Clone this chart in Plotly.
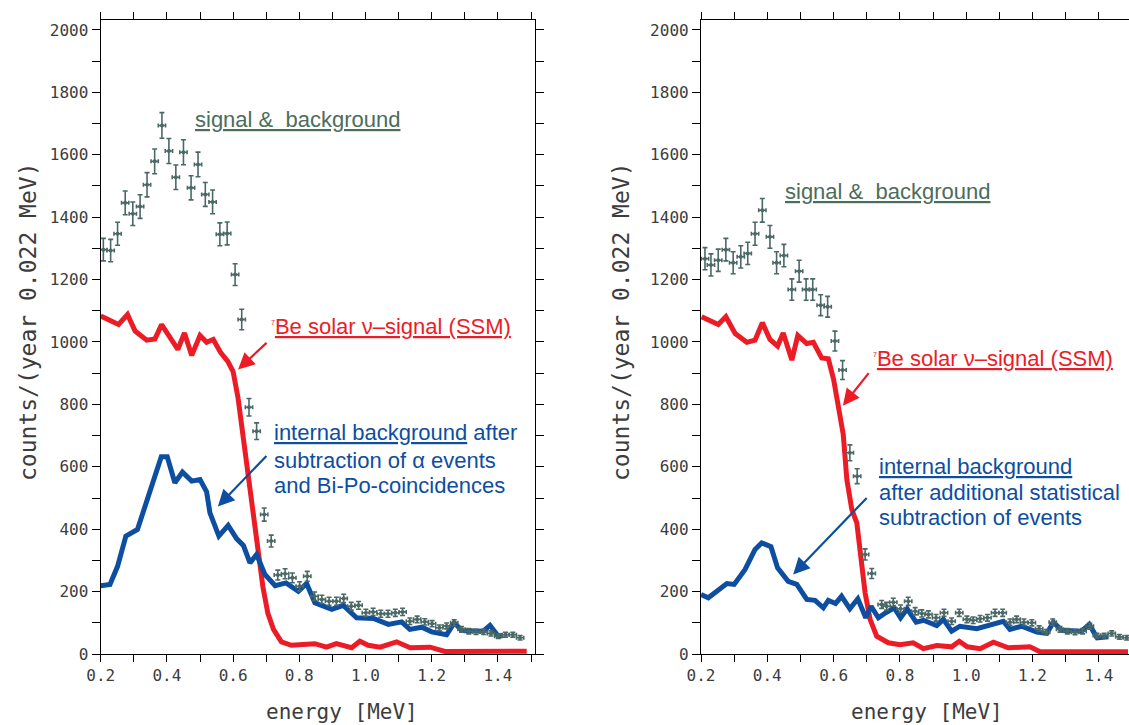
import numpy as np
import plotly.graph_objects as go

# ---------------- data ----------------
# left panel: signal & background (counts per 0.022 MeV bin)
left_sig_E = [0.208, 0.230, 0.251, 0.274, 0.297, 0.319, 0.340, 0.363, 0.385, 0.406,
              0.427, 0.450, 0.473, 0.494, 0.516, 0.538, 0.560, 0.582, 0.606, 0.626,
              0.648, 0.671, 0.694, 0.715, 0.735, 0.757, 0.779, 0.801, 0.824, 0.846,
              0.868, 0.890, 0.912, 0.934, 0.957, 0.979, 1.001, 1.023, 1.046, 1.068,
              1.090, 1.112, 1.134, 1.156, 1.179, 1.201, 1.223, 1.245, 1.268, 1.290,
              1.312, 1.334, 1.357, 1.379, 1.401, 1.423, 1.445, 1.467]
left_sig_N = [1296, 1293, 1347, 1446, 1411, 1434, 1504, 1579, 1694, 1612,
              1528, 1608, 1494, 1569, 1473, 1449, 1345, 1348, 1216, 1072,
              791, 714, 447, 362, 253, 257, 244, 217, 249, 185,
              175, 169, 169, 178, 153, 156, 132, 135, 129, 129,
              132, 135, 105, 111, 103, 97, 84, 90, 100, 79,
              73, 71, 71, 66, 57, 62, 62, 52]

# left panel: 7Be solar neutrino signal (SSM)
left_be_E = [0.200, 0.254, 0.281, 0.304, 0.339, 0.364, 0.384, 0.409, 0.433, 0.453,
             0.475, 0.500, 0.520, 0.540, 0.563, 0.584, 0.600, 0.615, 0.630, 0.645,
             0.660, 0.675, 0.690, 0.705, 0.722, 0.746, 0.776, 0.847, 0.882, 0.912,
             0.958, 0.983, 1.008, 1.044, 1.094, 1.135, 1.195, 1.240, 1.487]
left_be_N = [1083, 1056, 1088, 1035, 1006, 1010, 1056, 1014, 976, 1029,
             957, 1021, 999, 1008, 965, 938, 905, 820, 700, 560,
             440, 320, 215, 130, 79, 39, 28, 33, 22, 33,
             20, 41, 28, 22, 39, 20, 22, 8, 9]

# left panel: internal background after alpha / Bi-Po subtraction
left_bg_E = [0.200, 0.228, 0.251, 0.276, 0.311, 0.339, 0.364, 0.383, 0.401, 0.424,
             0.447, 0.475, 0.500, 0.520, 0.530, 0.557, 0.585, 0.611, 0.631, 0.651,
             0.671, 0.696, 0.727, 0.760, 0.797, 0.822, 0.847, 0.898, 0.933, 0.973,
             1.024, 1.069, 1.109, 1.134, 1.170, 1.200, 1.245, 1.268, 1.291, 1.356,
             1.376, 1.401, 1.416]
left_bg_N = [219, 223, 281, 378, 399, 490, 570, 632, 632, 549,
             583, 554, 559, 520, 452, 378, 412, 369, 348, 292,
             319, 255, 219, 228, 201, 226, 164, 143, 156, 116,
             114, 95, 103, 79, 86, 71, 62, 100, 75, 73,
             92, 57, 60]

# right panel: signal & background
right_sig_E = [0.212, 0.230, 0.252, 0.275, 0.297, 0.320, 0.341, 0.363, 0.385, 0.408,
               0.428, 0.450, 0.474, 0.496, 0.517, 0.537, 0.561, 0.582, 0.604, 0.627,
               0.649, 0.671, 0.695, 0.715, 0.745, 0.760, 0.780, 0.802, 0.825, 0.846,
               0.866, 0.886, 0.909, 0.933, 0.956, 0.979, 1.002, 1.021, 1.042, 1.064,
               1.087, 1.110, 1.132, 1.152, 1.174, 1.198, 1.220, 1.241, 1.261, 1.283,
               1.305, 1.328, 1.351, 1.373, 1.394, 1.416, 1.439, 1.462, 1.484]
right_sig_N = [1267, 1247, 1262, 1296, 1254, 1273, 1284, 1347, 1422, 1337,
               1254, 1277, 1168, 1227, 1168, 1168, 1118, 1113, 1003, 910,
               645, 570, 319, 258, 159, 153, 166, 145, 169, 137,
               130, 127, 116, 132, 105, 132, 111, 108, 113, 116,
               132, 132, 102, 111, 102, 100, 81, 70, 102, 79,
               73, 70, 73, 89, 59, 59, 66, 55, 52]

# right panel: 7Be solar neutrino signal (SSM)
right_be_E = [0.202, 0.252, 0.275, 0.303, 0.338, 0.363, 0.385, 0.408, 0.431, 0.448,
              0.474, 0.492, 0.519, 0.539, 0.564, 0.584, 0.600, 0.614, 0.629, 0.640,
              0.655, 0.670, 0.680, 0.695, 0.710, 0.730, 0.765, 0.800, 0.840, 0.871,
              0.911, 0.956, 0.979, 1.003, 1.042, 1.082, 1.127, 1.192, 1.223, 1.488]
right_be_N = [1081, 1056, 1081, 1027, 999, 1006, 1062, 1008, 987, 1029,
              942, 1021, 995, 999, 949, 946, 880, 794, 704, 559,
              463, 420, 324, 196, 111, 57, 36, 30, 36, 17,
              27, 23, 41, 23, 17, 38, 20, 23, 7, 7]

# right panel: internal background after additional statistical subtraction
right_bg_E = [0.200, 0.222, 0.278, 0.300, 0.333, 0.363, 0.383, 0.411, 0.431, 0.463,
              0.489, 0.519, 0.544, 0.569, 0.584, 0.606, 0.624, 0.649, 0.673, 0.697,
              0.713, 0.735, 0.757, 0.783, 0.802, 0.822, 0.849, 0.871, 0.911, 0.931,
              0.956, 0.981, 1.032, 1.112, 1.132, 1.167, 1.213, 1.243, 1.263, 1.288,
              1.348, 1.371, 1.395, 1.429]
right_bg_N = [191, 180, 226, 223, 271, 335, 356, 344, 276, 233,
              223, 175, 172, 148, 172, 162, 185, 145, 177, 116,
              153, 116, 132, 148, 116, 145, 102, 108, 91, 111,
              73, 89, 81, 105, 79, 89, 70, 66, 102, 76,
              73, 95, 52, 55]

BIN_HALF = 0.011  # half of the 0.022 MeV bin

# ---------------- styles ----------------
RED = "#ec1c27"
BLUE = "#0d4ea1"
PTS = "#4a6966"
SIGTXT = "#4b6d5b"
AXCOL = "#3c3c3c"
AXFONT = dict(family="DejaVu Sans Mono", size=16, color=AXCOL)

fig = go.Figure()


def add_panel(sig_E, sig_N, be_E, be_N, bg_E, bg_N, xa, ya):
    fig.add_trace(go.Scatter(x=be_E, y=be_N, mode="lines", xaxis=xa, yaxis=ya,
                             line=dict(color=RED, width=5), showlegend=False,
                             hoverinfo="skip"))
    fig.add_trace(go.Scatter(x=bg_E, y=bg_N, mode="lines", xaxis=xa, yaxis=ya,
                             line=dict(color=BLUE, width=5), showlegend=False,
                             hoverinfo="skip"))
    err = np.sqrt(np.array(sig_N, dtype=float))
    fig.add_trace(go.Scatter(
        x=sig_E, y=sig_N, mode="markers", xaxis=xa, yaxis=ya,
        marker=dict(color=PTS, size=4),
        error_y=dict(type="data", array=err, color=PTS, thickness=1.6, width=2.5),
        error_x=dict(type="constant", value=BIN_HALF, color=PTS, thickness=1.6, width=2),
        showlegend=False))


add_panel(left_sig_E, left_sig_N, left_be_E, left_be_N, left_bg_E, left_bg_N, "x", "y")
add_panel(right_sig_E, right_sig_N, right_be_E, right_be_N, right_bg_E, right_bg_N, "x2", "y2")

W, H = 1129, 725
MT, MB = 20, 71

xcommon = dict(showgrid=False, zeroline=False, showline=True, linecolor="black",
               linewidth=1.3, ticks="outside", ticklen=7, tickwidth=1.3,
               tickcolor="black", tick0=0.2, dtick=0.2, tickformat=".1f",
               tickfont=AXFONT, automargin=False,
               minor=dict(dtick=0.1, tick0=0.2, ticks="outside", ticklen=7,
                          tickwidth=1.3, tickcolor="black", showgrid=False))
ycommon = dict(showgrid=False, zeroline=False, showline=True, linecolor="black",
               linewidth=1.3, ticks="outside", ticklen=8, tickwidth=1.3,
               tickcolor="black", tick0=0, dtick=200, range=[0, 2032],
               tickfont=AXFONT, automargin=False,
               minor=dict(dtick=100, ticks="outside", ticklen=8, tickwidth=1.3,
                          tickcolor="black", showgrid=False))

fig.update_layout(
    width=W, height=H,
    margin=dict(l=0, r=0, t=MT, b=MB, autoexpand=False),
    plot_bgcolor="white", paper_bgcolor="white",
    xaxis=dict(domain=[100.7 / W, 535 / W], range=[0.2, 1.512], mirror="ticks",
               anchor="y", **xcommon),
    yaxis=dict(domain=[0, 1], anchor="x", mirror="ticks", **ycommon),
    xaxis2=dict(domain=[701 / W, 1.0], range=[0.2, 1.491], mirror="ticks",
                anchor="y2", **xcommon),
    yaxis2=dict(domain=[0, 1], anchor="x2", mirror=False, **ycommon),
)

PH = H - MT - MB


def py(p):
    """pixel row -> paper y"""
    return (H - MB - p) / PH


TXT = dict(family="Liberation Sans, Arial, sans-serif", size=22)
ann = []

# axis titles
for cx, cyx in [(341.5 / W, 28 / W), (926.5 / W, 621 / W)]:
    ann.append(dict(xref="paper", yref="paper", x=cx, y=py(712), text="energy [MeV]",
                    showarrow=False, font=dict(family="DejaVu Sans Mono", size=21,
                                               color=AXCOL),
                    xanchor="center", yanchor="middle"))
    ann.append(dict(xref="paper", yref="paper", x=cyx, y=py(322),
                    text="counts/(year 0.022 MeV)", textangle=-90, showarrow=False,
                    font=dict(family="DejaVu Sans Mono", size=23, color=AXCOL),
                    xanchor="center", yanchor="middle"))

NB = "\u00a0"
sig_text = "<u>signal &amp;" + NB + NB + "background</u>"
be_text = ("<sup><span style='font-size:7px'>7</span></sup>"
           "<u>Be solar \u03bd\u2013signal (SSM)</u>")


def text(xa, ya, x, y, t, color):
    return dict(xref=xa, yref=ya, x=x, y=y, text=t, showarrow=False,
                xanchor="left", yanchor="middle", font=dict(color=color, **TXT))


def arrow(xa, ya, x, y, ax, ay, color):
    return dict(xref=xa, yref=ya, x=x, y=y, ax=ax, ay=ay, text="", showarrow=True,
                arrowhead=2, arrowsize=1.5, arrowwidth=2.2, arrowcolor=color)


# left panel texts
ann += [
    text("x", "y", 0.479, 1713, sig_text, SIGTXT),
    text("x", "y", 0.708, 1050, be_text, RED),
    text("x", "y", 0.7175, 710, "<u>internal background</u> after", BLUE),
    text("x", "y", 0.7175, 620, "subtraction of \u03b1 events", BLUE),
    text("x", "y", 0.7175, 540, "and Bi-Po-coincidences", BLUE),
    arrow("x", "y", 0.615, 912, 30, -28, RED),
    arrow("x", "y", 0.554, 473, 50, -52, BLUE),
]

# right panel texts
ann += [
    text("x2", "y2", 0.447, 1482, sig_text, SIGTXT),
    text("x2", "y2", 0.712, 947, be_text, RED),
    text("x2", "y2", 0.731, 601, "<u>internal background</u>", BLUE),
    text("x2", "y2", 0.731, 518, "after additional statistical", BLUE),
    text("x2", "y2", 0.731, 438, "subtraction of events", BLUE),
    arrow("x2", "y2", 0.628, 796, 27, -34, RED),
    arrow("x2", "y2", 0.478, 255, 75, -78, BLUE),
]

fig.update_layout(annotations=ann)

fig.write_html("out.html", config={"displayModeBar": False},
               post_script="document.body.style.margin='0';")
